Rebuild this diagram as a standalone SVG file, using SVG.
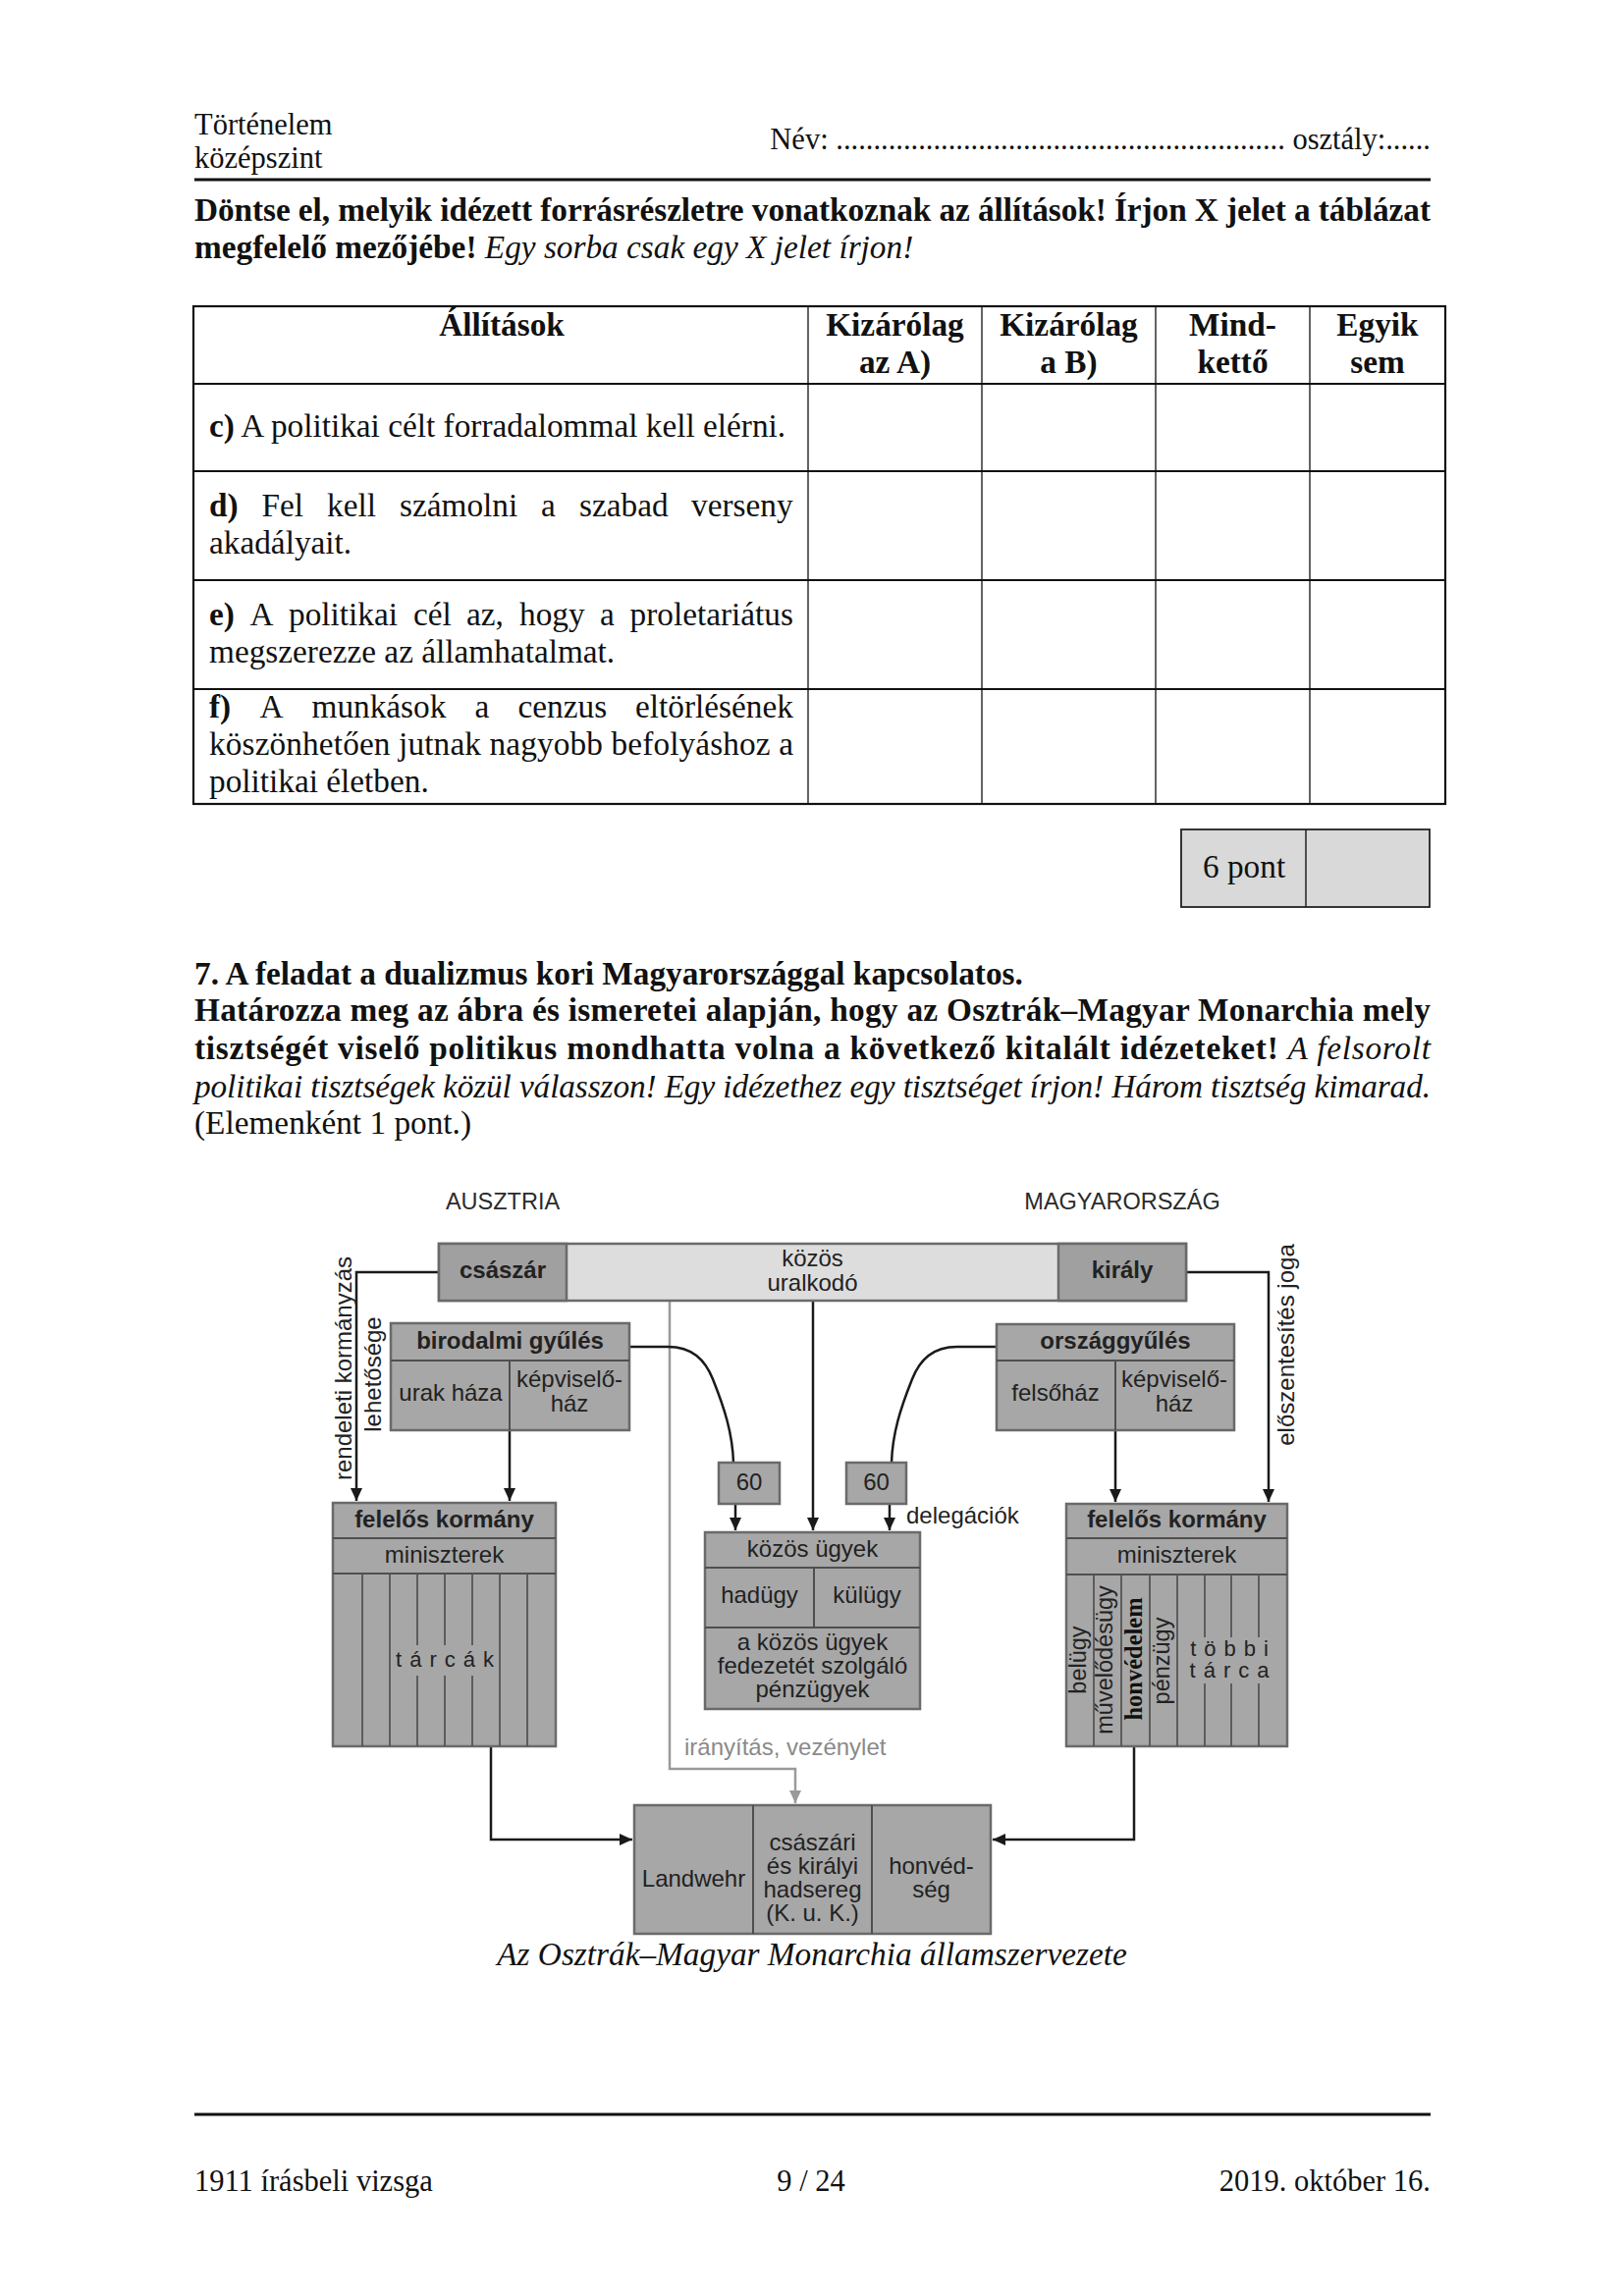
<svg xmlns="http://www.w3.org/2000/svg" width="1654" height="2339" viewBox="0 0 1654 2339">
<defs>
<style>
.s{font-family:"Liberation Serif","Times New Roman",serif;fill:#111}
.hf{font-size:30.5px}
.bd{font-size:33.3px}
.b{font-weight:bold}
.i{font-style:italic}
.m{text-anchor:middle}
.e{text-anchor:end}
.tl{fill:none;stroke:#111;stroke-width:2.2}
.tv{fill:none;stroke:#111;stroke-width:1.3}
.d{font-family:"Liberation Sans",Arial,sans-serif;font-size:24px;fill:#222;text-anchor:middle}
.db{font-weight:bold}
.bx{fill:#a7a7a7;stroke:#6a6a6a;stroke-width:2.5}
.dk{fill:#a0a0a0;stroke:#6a6a6a;stroke-width:2.5}
.lt{fill:#dddddd;stroke:#6a6a6a;stroke-width:2.5}
.dv{stroke:#4f4f4f;stroke-width:2;fill:none}
.st{stroke:#555;stroke-width:1.8;fill:none}
.c{fill:none;stroke:#1a1a1a;stroke-width:2.5}
.g{fill:none;stroke:#9a9a9a;stroke-width:2.5}
</style>
<marker id="ah" viewBox="0 0 13 12" refX="13" refY="6" markerWidth="13" markerHeight="12" markerUnits="userSpaceOnUse" orient="auto"><path d="M0,0 L13,6 L0,12 z" fill="#1a1a1a"/></marker>
<marker id="ahg" viewBox="0 0 13 12" refX="13" refY="6" markerWidth="13" markerHeight="12" markerUnits="userSpaceOnUse" orient="auto"><path d="M0,0 L13,6 L0,12 z" fill="#9a9a9a"/></marker>
</defs>
<rect width="1654" height="2339" fill="#fff"/>

<g id="page-header">
<text class="s hf" x="198" y="137">Történelem</text>
<text class="s hf" x="198" y="171">középszint</text>
<text class="s hf e" x="1457" y="152">Név: ............................................................ osztály:......</text>
<rect x="198" y="181.5" width="1259" height="3" fill="#111"/>
</g>

<g id="task-6-instructions">
<text class="s bd b" x="198" y="225" textLength="1259" lengthAdjust="spacing">Döntse el, melyik idézett forrásrészletre vonatkoznak az állítások! Írjon X jelet a táblázat</text>
<text class="s bd" x="198" y="263"><tspan class="b">megfelelő mezőjébe!</tspan> <tspan class="i">Egy sorba csak egy X jelet írjon!</tspan></text>
</g>

<g id="table">
<rect class="tl" x="197" y="312" width="1275" height="507"/>
<path class="tl" d="M197,391 H1472 M197,480 H1472 M197,591 H1472 M197,702 H1472"/>
<path class="tv" d="M823,312 V819 M1000,312 V819 M1177,312 V819 M1334,312 V819"/>
<text class="s bd b m" x="511" y="342">Állítások</text>
<text class="s bd b m" x="911.5" y="342">Kizárólag</text>
<text class="s bd b m" x="911.5" y="380">az A)</text>
<text class="s bd b m" x="1088.5" y="342">Kizárólag</text>
<text class="s bd b m" x="1088.5" y="380">a B)</text>
<text class="s bd b m" x="1255.5" y="342">Mind-</text>
<text class="s bd b m" x="1255.5" y="380">kettő</text>
<text class="s bd b m" x="1403" y="342">Egyik</text>
<text class="s bd b m" x="1403" y="380">sem</text>

<text class="s bd" x="213" y="445"><tspan class="b">c)</tspan> A politikai célt forradalommal kell elérni.</text>

<text class="s bd" y="526"><tspan class="b" x="213">d)</tspan><tspan x="266.5">Fel</tspan><tspan x="333">kell</tspan><tspan x="407">számolni</tspan><tspan x="551">a</tspan><tspan x="590">szabad</tspan><tspan x="704">verseny</tspan></text>
<text class="s bd" x="213" y="564">akadályait.</text>

<text class="s bd" y="637"><tspan class="b" x="213">e)</tspan><tspan x="254.5">A</tspan><tspan x="294">politikai</tspan><tspan x="421">cél</tspan><tspan x="475">az,</tspan><tspan x="529">hogy</tspan><tspan x="611">a</tspan><tspan x="641.5">proletariátus</tspan></text>
<text class="s bd" x="213" y="675">megszerezze az államhatalmat.</text>

<text class="s bd" y="731"><tspan class="b" x="213">f)</tspan><tspan x="264.5">A</tspan><tspan x="317.5">munkások</tspan><tspan x="483.5">a</tspan><tspan x="527.5">cenzus</tspan><tspan x="647">eltörlésének</tspan></text>
<text class="s bd" x="213" y="769" textLength="595" lengthAdjust="spacing">köszönhetően jutnak nagyobb befolyáshoz a</text>
<text class="s bd" x="213" y="807">politikai életben.</text>
</g>

<g id="score-box">
<rect x="1203" y="845" width="253" height="79" fill="#d9d9d9" stroke="#222" stroke-width="1.8"/>
<path d="M1330,845 V924" stroke="#222" stroke-width="1.5"/>
<text class="s bd" x="1225" y="894">6 pont</text>
</g>

<g id="task-7-instructions">
<text class="s bd b" x="198" y="1003">7. A feladat a dualizmus kori Magyarországgal kapcsolatos.</text>
<text class="s bd b" x="198" y="1040" textLength="1259" lengthAdjust="spacing">Határozza meg az ábra és ismeretei alapján, hogy az Osztrák–Magyar Monarchia mely</text>
<text class="s bd" x="198" y="1079" textLength="1259" lengthAdjust="spacing"><tspan class="b">tisztségét viselő politikus mondhatta volna a következő kitalált idézeteket!</tspan> <tspan class="i">A felsorolt</tspan></text>
<text class="s bd i" x="198" y="1118" textLength="1259" lengthAdjust="spacing">politikai tisztségek közül válasszon! Egy idézethez egy tisztséget írjon! Három tisztség kimarad.</text>
<text class="s bd" x="198" y="1155">(Elemenként 1 pont.)</text>
</g>

<g id="diagram">
<text class="d" x="512" y="1232" style="font-size:23.5px;fill:#2a2a2a">AUSZTRIA</text>
<text class="d" x="1143" y="1232" style="font-size:23.5px;fill:#2a2a2a">MAGYARORSZÁG</text>

<g id="connectors">
<path class="g" d="M682,1326 V1802 H810 V1837" marker-end="url(#ahg)"/>
<path class="c" d="M447,1296 H363 V1529" marker-end="url(#ah)"/>
<path class="c" d="M519,1457 V1529" marker-end="url(#ah)"/>
<path class="c" d="M640,1372 L680,1372 C705,1372 718,1385 726,1405 C738,1435 746,1460 747,1490"/>
<path class="c" d="M1015,1372 L975,1372 C950,1372 937,1385 929,1405 C917,1435 909,1460 908,1490"/>
<path class="c" d="M749,1532 V1559" marker-end="url(#ah)"/>
<path class="c" d="M828,1326 V1559" marker-end="url(#ah)"/>
<path class="c" d="M906,1532 V1559" marker-end="url(#ah)"/>
<path class="c" d="M1208,1296 H1292 V1530" marker-end="url(#ah)"/>
<path class="c" d="M1136,1457 V1530" marker-end="url(#ah)"/>
<path class="c" d="M500,1779 V1874 H644" marker-end="url(#ah)"/>
<path class="c" d="M1155,1779 V1874 H1011" marker-end="url(#ah)"/>
</g>

<g id="kozos-uralkodo">
<rect class="lt" x="447" y="1267" width="761" height="58"/>
<text class="d" x="827.5" y="1290">közös</text>
<text class="d" x="827.5" y="1315">uralkodó</text>
</g>
<g id="csaszar">
<rect class="dk" x="447" y="1267" width="130" height="58"/>
<text class="d db" x="512" y="1302">császár</text>
</g>
<g id="kiraly">
<rect class="dk" x="1078" y="1267" width="130" height="58"/>
<text class="d db" x="1143" y="1302">király</text>
</g>

<g id="rendeleti-label">
<text class="d" transform="translate(358,1394) rotate(-90)">rendeleti kormányzás</text>
<text class="d" transform="translate(388,1400) rotate(-90)">lehetősége</text>
</g>
<g id="eloszentesites-label">
<text class="d" transform="translate(1318,1370) rotate(-90)">előszentesítés joga</text>
</g>

<g id="birodalmi-gyules">
<rect class="bx" x="398" y="1348" width="243" height="109"/>
<path class="dv" d="M398,1386 H641 M519,1386 V1457"/>
<text class="d db" x="519.5" y="1374">birodalmi gyűlés</text>
<text class="d" x="459" y="1427">urak háza</text>
<text class="d" x="580" y="1413">képviselő-</text>
<text class="d" x="580" y="1438">ház</text>
</g>

<g id="orszaggyules">
<rect class="bx" x="1015" y="1349" width="242" height="108"/>
<path class="dv" d="M1015,1386 H1257 M1136,1386 V1457"/>
<text class="d db" x="1136" y="1374">országgyűlés</text>
<text class="d" x="1075" y="1427">felsőház</text>
<text class="d" x="1196" y="1413">képviselő-</text>
<text class="d" x="1196" y="1438">ház</text>
</g>

<g id="delegacio-a">
<rect class="bx" x="732" y="1490" width="62" height="42"/>
<text class="d" x="763" y="1518">60</text>
</g>
<g id="delegacio-m">
<rect class="bx" x="862" y="1490" width="61" height="42"/>
<text class="d" x="892.5" y="1518">60</text>
</g>
<text class="d" x="923" y="1552" style="text-anchor:start">delegációk</text>

<g id="kozos-ugyek">
<rect class="bx" x="718" y="1561" width="219" height="180"/>
<path class="dv" d="M718,1597 H937 M718,1658 H937 M829,1597 V1658"/>
<text class="d" x="827.5" y="1586">közös ügyek</text>
<text class="d" x="773.5" y="1633">hadügy</text>
<text class="d" x="883" y="1633">külügy</text>
<text class="d" x="827.5" y="1681">a közös ügyek</text>
<text class="d" x="827.5" y="1705">fedezetét szolgáló</text>
<text class="d" x="827.5" y="1729">pénzügyek</text>
</g>

<g id="felelos-kormany-a">
<rect class="bx" x="339" y="1531" width="227" height="248"/>
<path class="dv" d="M339,1567 H566 M339,1603 H566"/>
<path class="st" d="M369,1603 V1779 M397,1603 V1779 M425,1603 V1779 M453,1603 V1779 M481,1603 V1779 M509,1603 V1779 M537,1603 V1779"/>
<rect x="402" y="1676" width="100" height="31" fill="#a7a7a7"/>
<text class="d db" x="452.5" y="1556">felelős kormány</text>
<text class="d" x="452.5" y="1592">miniszterek</text>
<text class="d" x="457" y="1698" style="font-size:22px;letter-spacing:8px">tárcák</text>
</g>

<g id="felelos-kormany-m">
<rect class="bx" x="1086" y="1532" width="225" height="247"/>
<path class="dv" d="M1086,1567 H1311 M1086,1604 H1311"/>
<path class="st" d="M1114,1604 V1779 M1142,1604 V1779 M1171,1604 V1779 M1199,1604 V1779 M1227,1604 V1779 M1254,1604 V1779 M1282,1604 V1779"/>
<rect x="1205" y="1668" width="90" height="47" fill="#a7a7a7"/>
<text class="d db" x="1198.5" y="1556">felelős kormány</text>
<text class="d" x="1198.5" y="1592">miniszterek</text>
<text class="d" transform="translate(1106,1691) rotate(-90)" style="font-size:23.5px">belügy</text>
<text class="d" transform="translate(1133,1691) rotate(-90)" style="font-size:23.5px">művelődésügy</text>
<text class="d" transform="translate(1163,1690) rotate(-90)" style="font-family:'Liberation Serif','Times New Roman',serif;font-weight:bold;font-size:24.5px;fill:#111">honvédelem</text>
<text class="d" transform="translate(1191,1692) rotate(-90)" style="font-size:23.5px">pénzügy</text>
<text class="d" x="1256" y="1687" style="font-size:22px;letter-spacing:8px">többi</text>
<text class="d" x="1256" y="1709" style="font-size:22px;letter-spacing:8px">tárca</text>
</g>

<text class="d" x="697" y="1788" style="text-anchor:start;fill:#8a8a8a">irányítás, vezénylet</text>

<g id="hadsereg">
<rect class="bx" x="646" y="1839" width="363" height="131"/>
<path class="dv" d="M767,1839 V1970 M888,1839 V1970"/>
<text class="d" x="706.5" y="1922">Landwehr</text>
<text class="d" x="827.5" y="1885">császári</text>
<text class="d" x="827.5" y="1909">és királyi</text>
<text class="d" x="827.5" y="1933">hadsereg</text>
<text class="d" x="827.5" y="1957">(K. u. K.)</text>
<text class="d" x="948.5" y="1909">honvéd-</text>
<text class="d" x="948.5" y="1933">ség</text>
</g>
</g>

<text class="s bd i m" x="827" y="2002">Az Osztrák–Magyar Monarchia államszervezete</text>

<g id="page-footer">
<rect x="198" y="2152.5" width="1259" height="3" fill="#111"/>
<text class="s hf" x="198" y="2232">1911 írásbeli vizsga</text>
<text class="s hf m" x="826" y="2232">9 / 24</text>
<text class="s hf e" x="1457" y="2232">2019. október 16.</text>
</g>
</svg>
